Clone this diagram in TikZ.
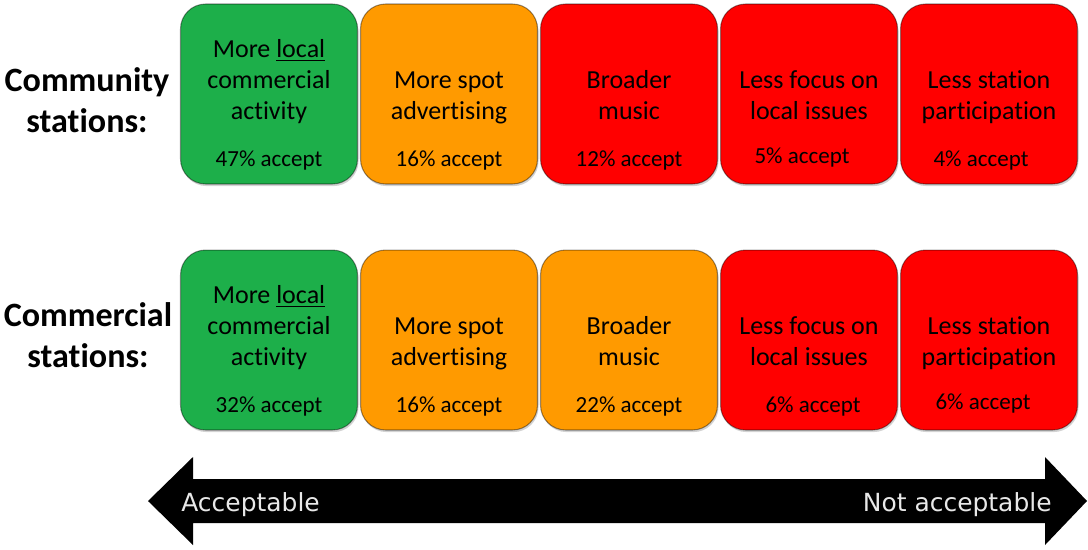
\documentclass[tikz,border=0pt]{standalone}
\usepackage{fontspec}
\setmainfont{Carlito}[Ligatures=NoCommon]
\newfontfamily\scalefont{DejaVu Sans}
\usetikzlibrary{shadows}
\definecolor{acceptable}{HTML}{1DAF4A}
\definecolor{partly}{HTML}{FF9A00}
\definecolor{rejected}{HTML}{FF0000}
\definecolor{scaletext}{HTML}{E8E8E8}
\tikzstyle{option_box}=[rectangle,
                        minimum width=3.54cm,
                        minimum height=3.6cm,
                        draw=black, draw opacity=0.4,
                        line width=0.6pt,
                        rounded corners=0.5cm,
                        drop shadow={shadow xshift=0.6pt, shadow yshift=-1.2pt, opacity=0.35}]
\tikzstyle{option_text}=[align=center, inner sep=0pt,
                         font=\fontsize{14.8}{17.6}\selectfont]
\tikzstyle{share_text}=[inner sep=0pt, font=\fontsize{13.1}{15}\selectfont]
\tikzstyle{row_label}=[align=center, inner sep=0pt,
                       font=\bfseries\fontsize{19.4}{23}\selectfont]
\tikzstyle{scale_text}=[inner sep=0pt, text=scaletext,
                        font=\scalefont\fontsize{14.2}{17}\selectfont]

\begin{document}
\begin{tikzpicture}[x=0.02cm, y=-0.02cm]
  \useasboundingbox (0,0) rectangle (1088,549);

  % community stations
  \node at (87,100) (community) [row_label] {Community\\stat\kern0pt ions:};
  \foreach \pos/\fc/\txt/\share/\dx/\dy in {1/acceptable/{More \underline{local}\\commercial\\activity}/47/0/0,
                                            2/partly/{More spot\\advertising}/16/0/0,
                                            3/rejected/{Broader\\music}/12/0/0,
                                            4/rejected/{Less focus on\\local issues}/5/-7/-3,
                                            5/rejected/{Less station\\participation}/4/-8/0} {
    \node at (89+180*\pos, 94) (com\pos) [option_box, fill=\fc] {};
    \node at (89+180*\pos, 129) (com\pos t) [option_text, anchor=south] {\txt\strut};
    \node at (89+180*\pos+\dx, 166+\dy) (com\pos s) [share_text, anchor=base] {\share\% accept};
  }

  % commercial stations
  \node at (88,335) (commercial) [row_label] {Commercial\\stat\kern0pt ions:};
  \foreach \pos/\fc/\txt/\share/\dx/\dy in {1/acceptable/{More \underline{local}\\commercial\\activity}/32/0/0,
                                            2/partly/{More spot\\advertising}/16/0/0,
                                            3/partly/{Broader\\music}/22/0/0,
                                            4/rejected/{Less focus on\\local issues}/6/4/0,
                                            5/rejected/{Less station\\participation}/6/-6/-3} {
    \node at (89+180*\pos, 340) (cml\pos) [option_box, fill=\fc] {};
    \node at (89+180*\pos, 375) (cml\pos t) [option_text, anchor=south] {\txt\strut};
    \node at (89+180*\pos+\dx, 412+\dy) (cml\pos s) [share_text, anchor=base] {\share\% accept};
  }

  % scale arrow
  \fill[black] (148,501) -- (193,457) -- (193,479) -- (1045,479) -- (1045,457)
    -- (1087,501) -- (1045,545) -- (1045,523) -- (193,523) -- (193,545) -- cycle;
  \node at (181,511) (acc) [scale_text, anchor=base west] {Acceptable};
  \node at (1052,511) (notacc) [scale_text, anchor=base east] {Not acceptable};
\end{tikzpicture}
\end{document}
